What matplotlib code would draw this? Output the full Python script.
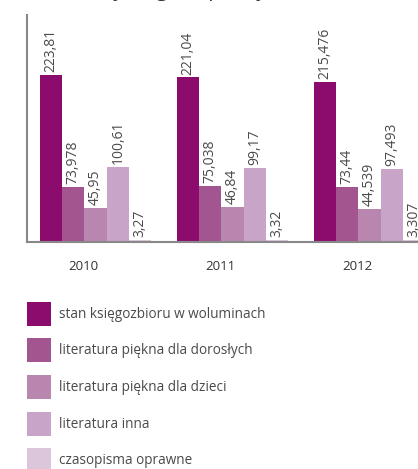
import numpy as np
import matplotlib.pyplot as plt
from matplotlib.patches import Rectangle

plt.rcParams['font.family'] = ['Open Sans', 'DejaVu Sans']

# Data (thousands of volumes)
years = ['2010', '2011', '2012']
series_names = ['stan księgozbioru w woluminach',
                'literatura piękna dla dorosłych',
                'literatura piękna dla dzieci',
                'literatura inna',
                'czasopisma oprawne']
stan = [223.81, 221.04, 215.476]
dorosli = [73.978, 75.038, 73.44]
dzieci = [45.95, 46.84, 44.539]
inna = [100.61, 99.17, 97.493]
czasopisma = [3.27, 3.32, 3.307]
value_labels = [['223,81', '221,04', '215,476'],
                ['73,978', '75,038', '73,44'],
                ['45,95', '46,84', '44,539'],
                ['100,61', '99,17', '97,493'],
                ['3,27', '3,32', '3,307']]
colors = ['#8c0c6e', '#a2558f', '#b886ae', '#c8a4c8', '#dcc6dc']

series = [stan, dorosli, dzieci, inna, czasopisma]

fig = plt.figure(figsize=(4.18, 4.69), dpi=100)
ax = fig.add_axes([27 / 418, 227 / 469, 411 / 418, 227 / 469])

w = 0.163
x = np.arange(len(years))
for j, vals in enumerate(series):
    pos = x + (j - 2) * w
    ax.bar(pos, vals, width=w, color=colors[j], linewidth=0)
    for p, v, lab in zip(pos, vals, value_labels[j]):
        ax.text(p, v + 4, lab, rotation=90, ha='center', va='bottom',
                fontsize=10, color='#4a4a4a')

ax.set_xlim(-0.5, 2.5)
ax.set_ylim(0, 305)
ax.set_xticks(x - 0.09)
ax.set_xticklabels(years, fontsize=9.5, color='#333333')
ax.tick_params(axis='x', length=0, pad=13)
ax.set_yticks([])
for s in ['top', 'right']:
    ax.spines[s].set_visible(False)
for s in ['left', 'bottom']:
    ax.spines[s].set_color('#888888')
    ax.spines[s].set_linewidth(1.5)

# title, cut off at the top edge of the picture
fig.text(78 / 418, 1 + 4 / 469, '(w tys. egzemplarzy),', fontsize=15,
         color='#333333', va='baseline', ha='left')

# legend
row_y = [314, 350, 387, 424, 460]
for name, c, yc in zip(series_names, colors, row_y):
    fig.patches.append(Rectangle((27 / 418, 1 - (yc + 12) / 469), 24 / 418, 24 / 469,
                                 transform=fig.transFigure, color=c, linewidth=0))
    fig.text(59 / 418, 1 - yc / 469, name, fontsize=9.8, color='#4a4a4a',
             va='center', ha='left')

fig.savefig('out.png', dpi=100)
